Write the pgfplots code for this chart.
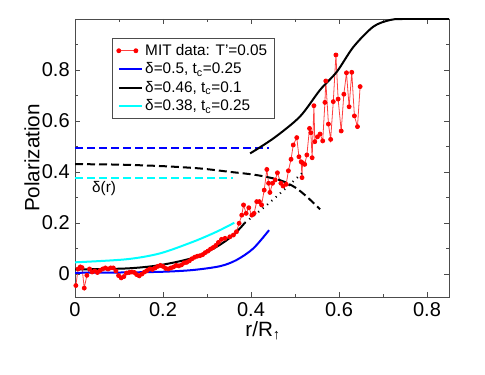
\documentclass[border=0pt]{standalone}
\usepackage{fontspec}
\setmainfont{Liberation Sans}
\usepackage{pgfplots}
\pgfplotsset{compat=1.18}
\usetikzlibrary{calc}

\definecolor{mitred}{RGB}{255,0,0}
\definecolor{cy}{RGB}{0,255,255}
\pgfplotsset{mitlegend/.style={legend image code/.code={\draw[#1] plot coordinates {(0cm,0cm) (0.45cm,0cm)};}}}

\begin{document}
\begin{tikzpicture}
\begin{axis}[
  name=ax,
  scale only axis,
  width=280.5pt, height=208.5pt,
  xmin=0, xmax=0.85, ymin=-0.09, ymax=1.0,
  xtick={0,0.2,0.4,0.6,0.8},
  ytick={0,0.2,0.4,0.6,0.8},
  minor xtick={0.1,0.3,0.5,0.7},
  minor ytick={-0.1,0.1,0.3,0.5,0.7,0.9},
  tick align=inside,
  major tick length=4pt, minor tick length=2.5pt,
  every tick/.style={black!70, line width=0.6pt},
  axis line style={black!70, line width=0.7pt},
  tick label style={font=\fontsize{15}{17}\selectfont},
  /pgf/number format/assume math mode=true,
  xticklabel style={yshift=-0.5pt},
  yticklabel style={xshift=-0.5pt},
  xlabel={r/R\textsubscript{↑}},
  ylabel={Polarization},
  label style={font=\fontsize{15.5}{17}\selectfont},
  xlabel style={at={(axis description cs:0.503,-0.12)}, anchor=center},
  ylabel style={at={(axis description cs:-0.115,0.5)}, anchor=center},
  legend style={at={(axis description cs:0.1,0.93)}, anchor=north west,
    draw=black!70, line width=0.6pt, font=\fontsize{11.5}{13}\selectfont,
    row sep=0pt, inner xsep=3pt, inner ysep=2pt},
  legend cell align=left,
]
% MIT data
\addplot[color=mitred!75, line width=0.6pt, mark=*, mark size=1.5pt,
  mark options={draw=mitred, fill=mitred}, mitlegend]
coordinates {
(0.002,-0.045) (0.007,0.020) (0.012,0.028) (0.016,0.025) (0.021,-0.055)
(0.027,-0.005) (0.033,0.020) (0.039,0.008) (0.045,0.012) (0.051,0.006)
(0.057,0.014) (0.063,0.020) (0.069,0.024) (0.075,0.020) (0.081,0.024)
(0.087,0.024) (0.093,0.012) (0.099,-0.006) (0.105,-0.015) (0.111,-0.010)
(0.117,0.004) (0.123,0.006) (0.129,0.008) (0.135,0.006) (0.140,-0.002)
(0.146,-0.007) (0.152,0.000) (0.158,0.008) (0.164,0.014) (0.170,0.020)
(0.176,0.018) (0.182,0.024) (0.188,0.030) (0.194,0.034) (0.200,0.030)
(0.206,0.022) (0.212,0.020) (0.218,0.024) (0.224,0.028) (0.230,0.034)
(0.236,0.032) (0.242,0.036) (0.248,0.044) (0.254,0.046) (0.260,0.052)
(0.266,0.060) (0.272,0.066) (0.278,0.070) (0.284,0.072) (0.290,0.076)
(0.296,0.084) (0.302,0.090) (0.308,0.098) (0.314,0.104) (0.320,0.112)
(0.326,0.124) (0.333,0.136) (0.341,0.140) (0.352,0.146) (0.360,0.153)
(0.367,0.166) (0.373,0.199) (0.379,0.231) (0.383,0.271) (0.389,0.238)
(0.395,0.260) (0.402,0.231) (0.407,0.238) (0.413,0.284) (0.419,0.284)
(0.424,0.271) (0.430,0.329) (0.436,0.410) (0.440,0.356) (0.443,0.320)
(0.449,0.356) (0.455,0.369) (0.460,0.397) (0.468,0.356) (0.473,0.345)
(0.480,0.352) (0.485,0.405) (0.491,0.450) (0.496,0.506) (0.504,0.535)
(0.509,0.460) (0.514,0.440) (0.516,0.378) (0.517,0.436) (0.522,0.430)
(0.527,0.467) (0.533,0.571) (0.536,0.554) (0.539,0.456) (0.543,0.660)
(0.545,0.519) (0.551,0.538) (0.557,0.549) (0.563,0.522) (0.568,0.673)
(0.570,0.757) (0.576,0.588) (0.581,0.528) (0.587,0.676) (0.593,0.859)
(0.598,0.686) (0.605,0.561) (0.611,0.705) (0.617,0.789) (0.623,0.656)
(0.629,0.791) (0.635,0.620) (0.642,0.578) (0.648,0.735)
};
\addlegendentry{MIT data: T'=0.05}
% delta=0.5, tc=0.25
\addplot[blue, line width=1.5pt, smooth] coordinates {
(0,0.005) (0.1,0.006) (0.2,0.009) (0.269,0.016) (0.33,0.031)
(0.367,0.055) (0.405,0.100) (0.441,0.172)
};
\addlegendentry{δ=0.5, t\textsubscript{c}=0.25}
% delta=0.46, tc=0.1
\addplot[black, line width=1.5pt, smooth] coordinates {
(0,0.018) (0.117,0.022) (0.193,0.035) (0.269,0.064) (0.322,0.107)
(0.36,0.153) (0.386,0.201)
};
\addlegendentry{δ=0.46, t\textsubscript{c}=0.1}
% delta=0.38, tc=0.25
\addplot[cy, line width=1.5pt, smooth] coordinates {
(0,0.046) (0.117,0.058) (0.193,0.081) (0.269,0.127) (0.322,0.166)
(0.362,0.201)
};
\addlegendentry{δ=0.38, t\textsubscript{c}=0.25}
% delta(r) curves
\addplot[blue, line width=1.5pt, dash pattern=on 6pt off 3pt, forget plot]
coordinates {(0,0.495) (0.44,0.495)};
\addplot[black, line width=1.5pt, dash pattern=on 6pt off 3pt, smooth, forget plot]
coordinates {
(0,0.431) (0.1,0.429) (0.2,0.423) (0.284,0.414) (0.35,0.401)
(0.413,0.388) (0.466,0.368) (0.5,0.340) (0.527,0.303) (0.557,0.254)
};
\addplot[cy, line width=1.5pt, dash pattern=on 6pt off 3pt, forget plot]
coordinates {(0,0.377) (0.358,0.377)};
% dotted continuation
\addplot[black, line width=1.5pt, dash pattern=on 0.8pt off 3.5pt, smooth, forget plot]
coordinates {(0.386,0.201) (0.43,0.262) (0.466,0.316) (0.5,0.370) (0.52,0.402)};
% upper branch
\addplot[black, line width=1.5pt, smooth, forget plot] coordinates {
(0.398,0.473) (0.451,0.532) (0.511,0.617) (0.557,0.722) (0.595,0.793)
(0.633,0.891) (0.678,0.970) (0.716,0.996) (0.745,1.0) (0.85,1.0)
};
\node[font=\fontsize{11.5}{13}\selectfont] at (axis cs:0.066,0.336) {δ(r)};
\end{axis}
\path ($(ax.south west)+(-56.25pt,-57.75pt)$) rectangle ($(ax.north east)+(27pt,14.25pt)$);
\end{tikzpicture}
\end{document}
